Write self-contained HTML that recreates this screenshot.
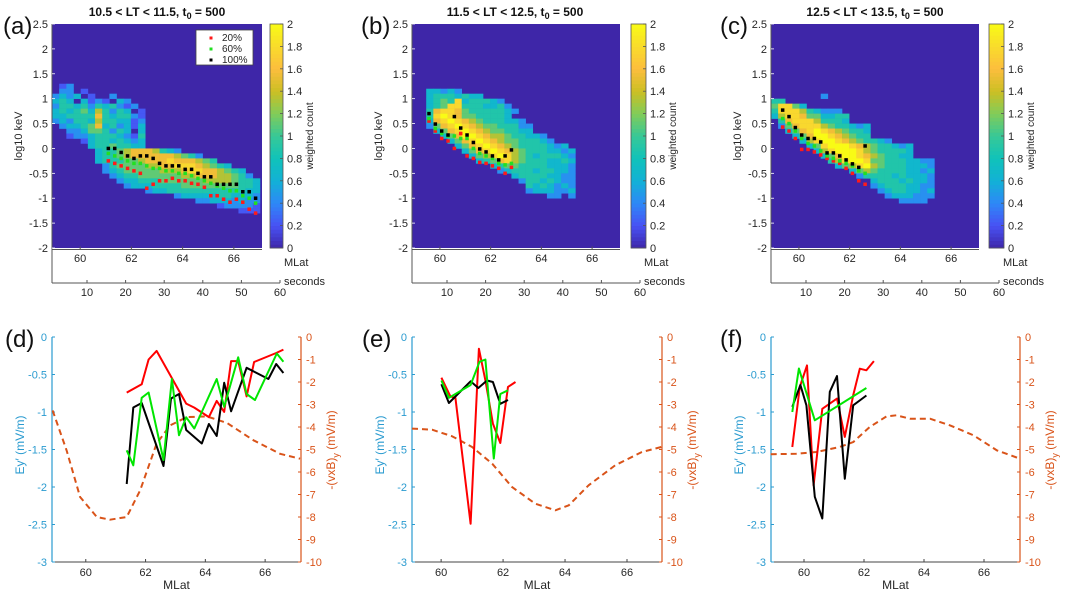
<!DOCTYPE html>
<html><head><meta charset="utf-8"><style>
html,body{margin:0;padding:0;background:#fff;}
svg{display:block;font-family:"Liberation Sans",sans-serif;}
</style></head><body>
<svg id="fig" width="1065" height="591" viewBox="0 0 1065 591" xmlns="http://www.w3.org/2000/svg"></svg>
<script>
// ---------- DATA ----------
const titles = ["10.5 < LT < 11.5, t", "11.5 < LT < 12.5, t", "12.5 < LT < 13.5, t"];
const topLabels = ["(a)","(b)","(c)"];
const botLabels = ["(d)","(e)","(f)"];
const logTicks = [2.5,2,1.5,1,0.5,0,-0.5,-1,-1.5,-2];
const mlatTicks = [60,62,64,66];
const secTicks = [10,20,30,40,50,60];
const cbTicks = [0,0.2,0.4,0.6,0.8,1,1.2,1.4,1.6,1.8,2];
const eyTicks = [0,-0.5,-1,-1.5,-2,-2.5,-3];
const vxbTicks = [0,-1,-2,-3,-4,-5,-6,-7,-8,-9,-10];
const legendNames = ["20%","60%","100%"];

// heatmap rows: top row = log 1.5..1.4, step 0.1; 29 MLat bins of 0.28 from 58.9; digit d -> count 2*d/9
const heatA = ["","","012","02201","232301002","3430312103200","2443424342120","3434536424301","3344447434421","2324436443312","0233457342313","0022355424303","0012234443214","0000134434323","00000344544330","0000003445677764320","0000003445677777765420","00000034445567778777654","00000002455556677888765430","000000023455555666788776543","0000000023445555556677766542","00000000023344455555566665443","00000000002333444455555555443","00000000000002334444444444433","00000000000000000233333443332","00000000000000000000223332322","00000000000000000000000122221","00000000000000000000000000111"];
const heatB = ["","","","0033232","00344434330","00345483444320","00345884443342","00478875444443200","00489875544443","00378987654443320","00257898765544422","00035789876554433","00003579987665443320","00000357898765544432","00000035789876544443230","00000003578987654443323","00000000356898654344432","00000000034578654443343","00000000000345544443332","00000000000023444344332","00000000000000344443322","00000000000000024434322","00000000000000004343232","00000000000000002333223","00000000000000000002202"];
const heatC = ["","","","","0000000200000","44","5885300","4888643222","36887553344","04788864443","02578886544323","00357898765443","00035799876544","00003689987654432","00000358999876544323","00000036899986544443","00000003579987654433","00000000468998554443322","00000000035689654443332","00000000000356544443323","00000000000024444343332","00000000000000344434332","00000000000000234443322","00000000000000023443323","00000000000000002333222","0000000000000000002222"];

const dotStartA = 61.1, dotStartB = 59.57, dotStartC = 59.36, dotStep = 0.25;
const blackA = [0,0,-0.08,-0.15,-0.2,-0.15,-0.15,-0.2,-0.3,-0.35,-0.35,-0.35,-0.42,-0.42,-0.5,-0.57,-0.57,-0.72,-0.72,-0.72,-0.72,-0.87,-0.87,-1.0];
const greenA = [-0.1,-0.15,-0.2,-0.25,-0.3,-0.3,-0.35,-0.4,-0.4,-0.45,-0.45,-0.5,-0.5,-0.55,-0.6,-0.65,-0.7,-0.75,-0.8,-0.85,-0.85,-0.95,-1.0,-1.1];
const redA = [-0.25,-0.3,-0.35,-0.4,-0.45,-0.5,-0.8,-0.72,-0.65,-0.65,-0.6,-0.65,-0.65,-0.7,-0.72,-0.78,-0.95,-0.95,-1.02,-1.08,-1.02,-1.08,-1.22,-1.3];
const blackB = [0.7,0.49,0.35,0.27,0.64,0.41,0.27,0.12,-0.01,-0.07,-0.15,-0.23,-0.15,-0.03];
const greenB = [0.6,0.4,0.3,0.25,0.25,0.2,0.2,0.0,-0.1,-0.15,-0.2,-0.3,-0.33,-0.3];
const redB = [0.55,0.35,0.2,0.15,0.0,0.3,-0.15,-0.2,-0.28,-0.3,-0.35,-0.4,-0.5,-0.38];
const blackC = [0.77,0.64,0.42,0.27,0.2,0.2,0.13,-0.09,-0.09,-0.15,-0.23,-0.31,-0.38,0.05];
const greenC = [0.6,0.5,0.35,0.2,0.1,0.05,-0.05,-0.15,-0.2,-0.25,-0.3,-0.35,-0.45,-0.5];
const redC = [0.43,0.35,0.2,-0.02,-0.02,-0.07,-0.13,-0.2,-0.25,-0.3,-0.4,-0.5,-0.65,-0.72];

// bottom panels: [MLat, value]
const dBlackX = [61.37,61.59,61.87,62.6,62.85,63.12,63.36,63.88,64.12,64.38,64.63,64.86,65.38,66.11,66.37,66.61];
const dBlackY = [-1.96,-0.94,-0.88,-1.72,-0.82,-0.76,-1.24,-1.42,-1.16,-1.32,-0.61,-0.99,-0.41,-0.56,-0.36,-0.48];
const dGreenX = [61.37,61.59,61.87,62.1,62.6,62.88,63.12,63.36,63.63,64.38,64.63,65.1,65.38,65.66,66.39,66.61];
const dGreenY = [-1.51,-1.71,-0.81,-0.74,-1.64,-0.56,-1.31,-1.07,-1.22,-0.56,-0.93,-0.27,-0.76,-0.84,-0.22,-0.33];
const dRedX = [61.37,61.87,62.1,62.37,63.36,63.63,64.12,64.38,64.63,64.86,65.1,65.38,65.63,66.37,66.61];
const dRedY = [-2.47,-2.1,-1.0,-0.62,-2.96,-3.14,-3.56,-2.84,-3.33,-1.07,-1.07,-2.64,-1.11,-0.71,-0.56];
const dDashX = [58.89,59.36,59.81,60.37,60.81,61.37,61.82,62.37,62.82,63.38,64.05,64.72,65.61,66.5,67.17];
const dDashY = [-3.26,-5.04,-7.11,-8.0,-8.12,-8.0,-6.81,-4.74,-3.93,-3.56,-3.53,-3.82,-4.59,-5.19,-5.41];

const eBlackX = [60.01,60.25,60.95,61.2,61.48,61.67,61.91,62.16];
const eBlackY = [-0.63,-0.88,-0.59,-0.68,-0.58,-0.6,-0.89,-0.84];
const eGreenX = [60.01,60.25,60.95,61.24,61.43,61.7,61.91,62.16];
const eGreenY = [-0.58,-0.81,-0.64,-0.33,-0.3,-1.62,-0.76,-0.71];
const eRedX = [60.01,60.3,60.46,60.95,61.22,61.43,61.67,61.91,62.16,62.4];
const eRedY = [-1.81,-2.64,-2.7,-8.3,-0.52,-1.93,-3.85,-4.71,-2.22,-2.0];
const eDashX = [59.06,59.71,60.35,61.0,61.65,62.29,63.04,63.69,64.12,64.76,65.62,66.48,67.11];
const eDashY = [-4.07,-4.12,-4.41,-4.89,-5.63,-6.67,-7.41,-7.7,-7.48,-6.59,-5.7,-5.11,-4.89];

const fBlackX = [59.61,59.88,60.08,60.36,60.61,60.86,61.1,61.36,61.64,62.08];
const fBlackY = [-0.93,-0.64,-0.91,-2.13,-2.42,-0.73,-0.52,-1.89,-0.91,-0.78];
const fGreenX = [59.61,59.83,60.36,62.08];
const fGreenY = [-1.0,-0.42,-1.11,-0.68];
const fRedX = [59.61,59.86,60.1,60.32,60.61,61.1,61.36,61.64,61.86,62.08,62.33];
const fRedY = [-4.89,-2.22,-1.26,-6.59,-3.19,-2.74,-4.44,-2.59,-1.41,-1.48,-1.07];
const fDashX = [58.89,59.74,60.41,61.19,61.64,62.19,62.75,63.08,63.53,64.2,64.87,65.65,66.43,67.2];
const fDashY = [-5.21,-5.19,-5.11,-4.89,-4.67,-4.0,-3.53,-3.48,-3.63,-3.63,-3.93,-4.37,-5.04,-5.41];

// ---------- DRAW ----------
const NS = "http://www.w3.org/2000/svg";
const svg = document.getElementById("fig");
function el(tag, attrs, parent, txt){
  const e = document.createElementNS(NS, tag);
  for (const k in attrs) e.setAttribute(k, attrs[k]);
  if (txt !== undefined) e.textContent = txt;
  (parent || svg).appendChild(e);
  return e;
}
const PAR = [[0,[62,38,168]],[0.1,[72,82,244]],[0.2,[46,135,247]],[0.3,[18,177,214]],[0.4,[16,194,186]],[0.5,[55,200,151]],[0.6,[129,204,89]],[0.7,[204,191,36]],[0.8,[252,190,61]],[0.9,[249,219,44]],[1,[249,251,21]]];
function parula(t){
  t = Math.max(0, Math.min(1, t));
  for (let i = 0; i < PAR.length - 1; i++){
    if (t <= PAR[i+1][0]){
      const a = PAR[i], b = PAR[i+1], f = (t - a[0]) / (b[0] - a[0]);
      const c = a[1].map((v, k) => Math.round(v + (b[1][k] - v) * f));
      return `rgb(${c[0]},${c[1]},${c[2]})`;
    }
  }
  return "rgb(249,251,21)";
}

const TOP = [
  {L:52,R:262,cbL:270,cbR:283,tx:157,lx:3,heat:heatA,black:blackA,green:greenA,red:redA,start:dotStartA},
  {L:412,R:620,cbL:631,cbR:646,tx:515,lx:361,heat:heatB,black:blackB,green:greenB,red:redB,start:dotStartB},
  {L:771,R:979,cbL:989,cbR:1004,tx:875,lx:720,heat:heatC,black:blackC,green:greenC,red:redC,start:dotStartC}
];
const YT = 24, YB = 248;
const tickCol = "#262626";

TOP.forEach((p, pi) => {
  const g = el("g", {}, svg);
  
  
  const xs = m => p.L + (m - 58.9) / 8.2 * (p.R - p.L);
  const ys = v => YT + (2.5 - v) / 4.5 * (YB - YT);
  const bg = el("rect", {x:p.L, y:YT, width:p.R-p.L, height:YB-YT, fill:"#3e26a8"}, g);
  
  
  const cw = 0.28 / 8.2 * (p.R - p.L);
  p.heat.forEach((row, r) => {
    for (let i = 0; i < row.length && i < 29; i++){
      const d = +row[i];
      if (!d) continue;
      const x0 = xs(58.9 + 0.28 * i);
      const y0 = ys(1.5 - 0.1 * r);
      const c = el("rect", {x:x0.toFixed(2), y:y0.toFixed(2), width:(cw+0.3).toFixed(2), height:(ys(0)-ys(0.1)+0.3).toFixed(2), fill:parula(d/9)}, g);
      
      
    }
  });
  [[p.red,"#ff1a1a","dot-20pct"],[p.green,"#22e022","dot-60pct"],[p.black,"#000","dot-100pct"]].forEach(([arr,col,nm]) => {
    arr.forEach((v, i) => {
      const d = el("rect", {x:xs(p.start + dotStep*i)-1.75, y:ys(v)-1.75, width:3.5, height:3.5, fill:col}, g);
      
      
    });
  });
  el("line", {x1:p.L, y1:YT, x2:p.L, y2:283, stroke:"#555", "stroke-width":1}, g);
  logTicks.forEach(v => {
    el("line", {x1:p.L, y1:ys(v), x2:p.L+3, y2:ys(v), stroke:"#fff", "stroke-width":0.8}, g);
    const t = el("text", {x:p.L-4, y:ys(v)+4, "font-size":11, "text-anchor":"end", fill:tickCol}, g, String(v));
    
    
  });
  const yl = el("text", {transform:`translate(${p.L-30},${ys(0.25)}) rotate(-90)`, "font-size":11, "text-anchor":"middle", fill:tickCol}, g, "log10 keV");
  
  
  el("line", {x1:p.L, y1:YB+1.5, x2:p.R, y2:YB+1.5, stroke:"#555", "stroke-width":1}, g);
  mlatTicks.forEach(m => {
    el("line", {x1:xs(m), y1:YB+1.5, x2:xs(m), y2:YB-1.5, stroke:"#555"}, g);
    const t = el("text", {x:xs(m), y:262, "font-size":11, "text-anchor":"middle", fill:tickCol}, g, String(m));
    
    
  });
  const ml = el("text", {x:p.L+232, y:266, "font-size":11, fill:tickCol}, g, "MLat");
  
  
  const ss = s => p.L + 35 + (s - 10) * 3.86;
  el("line", {x1:p.L, y1:283, x2:ss(60), y2:283, stroke:"#555"}, g);
  secTicks.forEach(s => {
    el("line", {x1:ss(s), y1:283, x2:ss(s), y2:280, stroke:"#555"}, g);
    const t = el("text", {x:ss(s), y:296, "font-size":11, "text-anchor":"middle", fill:tickCol}, g, String(s));
    
    
  });
  const sl = el("text", {x:p.L+232, y:285, "font-size":11, fill:tickCol}, g, "seconds");
  
  
  const N = 60;
  for (let k = 0; k < N; k++){
    el("rect", {x:p.cbL, y:YT + (YB-YT)*(N-1-k)/N, width:p.cbR-p.cbL, height:(YB-YT)/N+0.5, fill:parula((k+0.5)/N)}, g);
  }
  el("rect", {x:p.cbL, y:YT, width:p.cbR-p.cbL, height:YB-YT, fill:"none", stroke:"#555", "stroke-width":0.8}, g);
  cbTicks.forEach(v => {
    const y = YB - v/2*(YB-YT);
    el("line", {x1:p.cbR-3, y1:y, x2:p.cbR, y2:y, stroke:"#555", "stroke-width":0.8}, g);
    const t = el("text", {x:p.cbR+4, y:y+4, "font-size":11, fill:tickCol}, g, String(v));
    
    
  });
  const cl = el("text", {transform:`translate(${p.cbR+30},${136}) rotate(-90)`, "font-size":10, "text-anchor":"middle", fill:tickCol}, g, "weighted count");
  
  
  const tt = el("text", {x:p.tx, y:16, "font-size":12, "font-weight":"bold", "text-anchor":"middle", fill:"#111"}, g);
  
  
  el("tspan", {}, tt, titles[pi]);
  el("tspan", {"font-size":9, dy:3}, tt, "0");
  el("tspan", {dy:-3}, tt, " = 500");
  const pl = el("text", {x:p.lx, y:34, "font-size":24, fill:"#111"}, g, topLabels[pi]);
  
  
  if (pi === 0){
    const lg = el("g", {}, g);
    
    
    el("rect", {x:196, y:30, width:57, height:35, fill:"#fff", stroke:"#444", "stroke-width":0.8}, lg);
    ["#ff1a1a","#22e022","#000"].forEach((c, i) => {
      const e = el("g", {}, lg);
      
      
      el("rect", {x:209.5, y:36.5+i*11, width:3, height:3, fill:c}, e);
      el("text", {x:222, y:41+i*11, "font-size":10, fill:tickCol}, e, legendNames[i]);
    });
  }
});

// ---------- bottom panels ----------
const BOT = [
  {L:52,R:301,x0:58.87,x1:67.2,lx:5,
   series:[[dDashX,dDashY,"r","dash"],[dRedX,dRedY,"r","red"],[dBlackX,dBlackY,"l","black"],[dGreenX,dGreenY,"l","green"]]},
  {L:412,R:662,x0:59.06,x1:67.13,lx:362,
   series:[[eDashX,eDashY,"r","dash"],[eRedX,eRedY,"r","red"],[eBlackX,eBlackY,"l","black"],[eGreenX,eGreenY,"l","green"]]},
  {L:771,R:1020,x0:58.9,x1:67.2,lx:720,
   series:[[fDashX,fDashY,"r","dash"],[fRedX,fRedY,"r","red"],[fBlackX,fBlackY,"l","black"],[fGreenX,fGreenY,"l","green"]]}
];
const BT = 337, BB = 562;
const BLUE = "#2a9bd0", ORANGE = "#d95319";
BOT.forEach((p, pi) => {
  const g = el("g", {}, svg);
  
  
  const xs = m => p.L + (m - p.x0) / (p.x1 - p.x0) * (p.R - p.L);
  const yl = v => BT + (0 - v) / 3 * (BB - BT);
  const yr = v => BT + (0 - v) / 10 * (BB - BT);
  el("line", {x1:p.L, y1:BT, x2:p.L, y2:BB, stroke:BLUE, "stroke-width":1.2}, g);
  el("line", {x1:p.R, y1:BT, x2:p.R, y2:BB, stroke:ORANGE, "stroke-width":1.2}, g);
  el("line", {x1:p.L, y1:BB, x2:p.R, y2:BB, stroke:"#444", "stroke-width":1}, g);
  eyTicks.forEach(v => {
    el("line", {x1:p.L, y1:yl(v), x2:p.L+3, y2:yl(v), stroke:BLUE}, g);
    const t = el("text", {x:p.L-5, y:yl(v)+4, "font-size":11, "text-anchor":"end", fill:BLUE}, g, String(v));
    
    
  });
  vxbTicks.forEach(v => {
    el("line", {x1:p.R, y1:yr(v), x2:p.R-3, y2:yr(v), stroke:ORANGE}, g);
    const t = el("text", {x:p.R+5, y:yr(v)+4, "font-size":11, fill:ORANGE}, g, String(v));
    
    
  });
  mlatTicks.forEach(m => {
    el("line", {x1:xs(m), y1:BB, x2:xs(m), y2:BB-3, stroke:"#444"}, g);
    const t = el("text", {x:xs(m), y:576, "font-size":11, "text-anchor":"middle", fill:tickCol}, g, String(m));
    
    
  });
  const xt = el("text", {x:(p.L+p.R)/2, y:589, "font-size":12, "text-anchor":"middle", fill:tickCol}, g, "MLat");
  
  
  const lt = el("text", {transform:`translate(${p.L-28},${445}) rotate(-90)`, "font-size":12, "text-anchor":"middle", fill:BLUE}, g, "Ey′ (mV/m)");
  
  
  const rt = el("text", {transform:`translate(${p.R+34},${450}) rotate(-90)`, "font-size":12, "text-anchor":"middle", fill:ORANGE}, g);
  
  
  el("tspan", {}, rt, "-(vxB)");
  el("tspan", {"font-size":9, dy:4}, rt, "y");
  el("tspan", {dy:-4}, rt, " (mV/m)");
  const pl = el("text", {x:p.lx, y:347, "font-size":24, fill:"#111"}, g, botLabels[pi]);
  
  
  p.series.forEach(([X, Y, ax, kind]) => {
    const yf = ax === "l" ? yl : yr;
    const pts = X.map((m, i) => xs(m).toFixed(1) + "," + yf(Y[i]).toFixed(1)).join(" ");
    const attrs = {points:pts, fill:"none", "stroke-width":2, "stroke-linejoin":"round"};
    if (kind === "dash"){ attrs.stroke = ORANGE; attrs["stroke-dasharray"] = "6,4"; }
    else if (kind === "red") attrs.stroke = "#ff0000";
    else if (kind === "green") attrs.stroke = "#00e600";
    else attrs.stroke = "#000";
    const l = el("polyline", attrs, g);
    
    
  });
});
</script>
</body></html>
